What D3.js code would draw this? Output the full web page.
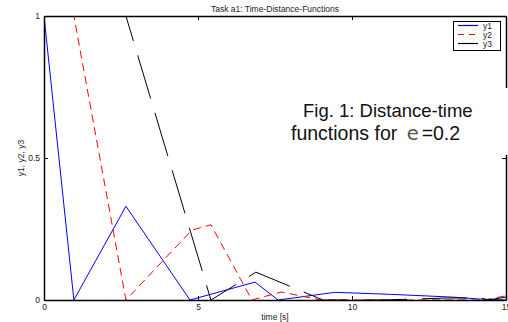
<!DOCTYPE html>
<html>
<head>
<meta charset="utf-8">
<script src="https://cdn.jsdelivr.net/npm/d3@7"></script>
<style>
  html, body { margin: 0; padding: 0; background: #fff; }
  svg { display: block; font-family: "Liberation Sans", Arial, sans-serif; }
</style>
</head>
<body>
<div id="chart"></div>
<script>
// time samples and distances
var y1Time = [0, 0.97, 2.66, 4.74, 6.85, 7.6, 9.45, 11.25, 13.3, 14.2, 15];
var y1Dist = [1, 0, 0.33, 0, 0.063, 0, 0.027, 0.02, 0.01, 0.003, 0];

var y2Time = [0, 0.97, 2.66, 4.8, 5.42, 6.75, 7.7, 9.0, 14.3, 15];
var y2Dist = [1, 1, 0, 0.246, 0.265, 0, 0.028, 0, 0, 0.015];

var y3Time = [0, 2.66, 5.42, 6.88, 9.06, 11.0, 13.1, 14.2, 14.4, 15];
var y3Dist = [1, 1, 0, 0.098, 0, 0, 0.007, 0.007, 0, 0.01];

var seriesNames = ['y1', 'y2', 'y3'];
var xTicks = [0, 5, 10, 15];
var yTicks = [0, 0.5, 1];

(function () {
  'use strict';

  var W = 508, H = 322;
  var left = 44, right = 506, top = 16, bottom = 300;

  var svg = d3.select('#chart').append('svg')
    .attr('width', W)
    .attr('height', H);

  var x = d3.scaleLinear().domain([0, 15]).range([left, right]);
  var y = d3.scaleLinear().domain([0, 1]).range([bottom, top]);

  svg.append('clipPath').attr('id', 'plot-clip')
    .append('rect')
    .attr('x', left).attr('y', top)
    .attr('width', right - left).attr('height', bottom - top);

  // series styles (matlab-ish: b-, r--, k--)
  var styles = {
    y1: { color: '#0000ff', dash: null, legendDash: null, offset: 0 },
    y2: { color: '#ff0000', dash: '8,5', legendDash: '6,5', offset: 0 },
    y3: { color: '#000000', dash: '45,15', legendDash: null, offset: 57 }
  };
  var series = [
    { name: 'y1', pts: y1Time.map(function (t, i) { return [t, y1Dist[i]]; }) },
    { name: 'y2', pts: y2Time.map(function (t, i) { return [t, y2Dist[i]]; }) },
    { name: 'y3', pts: y3Time.map(function (t, i) { return [t, y3Dist[i]]; }) }
  ];

  var line = d3.line()
    .x(function (d) { return x(d[0]); })
    .y(function (d) { return y(d[1]); });

  var plot = svg.append('g').attr('clip-path', 'url(#plot-clip)');
  plot.selectAll('path')
    .data(series)
    .join('path')
    .attr('d', function (d) { return line(d.pts); })
    .attr('fill', 'none')
    .attr('stroke', function (d) { return styles[d.name].color; })
    .attr('stroke-width', 1)
    .attr('stroke-dasharray', function (d) { return styles[d.name].dash; })
    .attr('stroke-dashoffset', function (d) { return styles[d.name].offset; });

  // axes, ticks pointing inward
  function styleAxis(g) {
    g.select('.domain').attr('stroke', '#000').attr('stroke-width', 1.5);
    g.selectAll('.tick line').attr('stroke', '#000');
    g.selectAll('.tick text').attr('fill', '#222').attr('font-size', '8.5px')
      .attr('font-family', '"Liberation Sans", Arial, sans-serif');
  }

  svg.append('g')
    .attr('transform', 'translate(0,' + bottom + ')')
    .call(d3.axisBottom(x).tickValues(xTicks).tickSizeInner(-4).tickSizeOuter(0).tickPadding(4))
    .call(styleAxis);

  svg.append('g')
    .attr('transform', 'translate(0,' + top + ')')
    .call(d3.axisTop(x).tickValues(xTicks).tickSizeInner(-4).tickSizeOuter(0).tickFormat(''))
    .call(styleAxis);

  svg.append('g')
    .attr('transform', 'translate(' + left + ',0)')
    .call(d3.axisLeft(y).tickValues(yTicks).tickSizeInner(-4).tickSizeOuter(0).tickPadding(4)
      .tickFormat(d3.format('~g')))
    .call(styleAxis);

  svg.append('g')
    .attr('transform', 'translate(' + right + ',0)')
    .call(d3.axisRight(y).tickValues(yTicks).tickSizeInner(-4).tickSizeOuter(0).tickFormat(''))
    .call(styleAxis);

  // title and axis labels
  svg.append('text')
    .attr('x', (left + right) / 2).attr('y', 11.5)
    .attr('text-anchor', 'middle')
    .attr('font-size', '8.5px').attr('fill', '#222')
    .text('Task a1: Time-Distance-Functions');

  svg.append('text')
    .attr('x', (left + right) / 2).attr('y', 319.5)
    .attr('text-anchor', 'middle')
    .attr('font-size', '8.5px').attr('fill', '#222')
    .text('time [s]');

  svg.append('text')
    .attr('transform', 'translate(24,' + (top + bottom) / 2 + ') rotate(-90)')
    .attr('text-anchor', 'middle')
    .attr('font-size', '8.5px').attr('fill', '#222')
    .text('y1, y2, y3');

  // legend
  var lg = svg.append('g');
  lg.append('rect')
    .attr('x', 453.5).attr('y', 21.5)
    .attr('width', 47).attr('height', 29)
    .attr('fill', '#fff').attr('stroke', '#000').attr('stroke-width', 1);
  var items = lg.selectAll('g.item')
    .data(seriesNames)
    .join('g')
    .attr('class', 'item')
    .attr('transform', function (d, i) { return 'translate(0,' + (25.5 + i * 9) + ')'; });
  items.append('line')
    .attr('x1', 458).attr('x2', 478)
    .attr('stroke', function (d) { return styles[d].color; })
    .attr('stroke-width', 1.2)
    .attr('stroke-dasharray', function (d) { return styles[d].legendDash; });
  items.append('text')
    .attr('x', 483).attr('y', 3)
    .attr('font-size', '8.5px').attr('fill', '#222')
    .text(function (d) { return d; });

  // figure caption box pasted over the right edge
  svg.append('rect')
    .attr('x', 272).attr('y', 88)
    .attr('width', 236).attr('height', 67)
    .attr('fill', '#fff');

  svg.append('text')
    .attr('x', 303).attr('y', 117)
    .attr('font-size', '18.5px').attr('fill', '#111')
    .text('Fig. 1: Distance-time');

  var cap2 = svg.append('text')
    .attr('x', 291).attr('y', 140)
    .attr('font-size', '19.5px').attr('fill', '#111');
  cap2.append('tspan').text('functions for ');
  cap2.append('tspan')
    .attr('dx', 4)
    .attr('font-family', '"DejaVu Sans", sans-serif')
    .attr('font-size', '19.5px').attr('fill', '#555')
    .text('e');
  cap2.append('tspan').attr('dx', 3).text('=0.2');
})();
</script>
</body>
</html>
